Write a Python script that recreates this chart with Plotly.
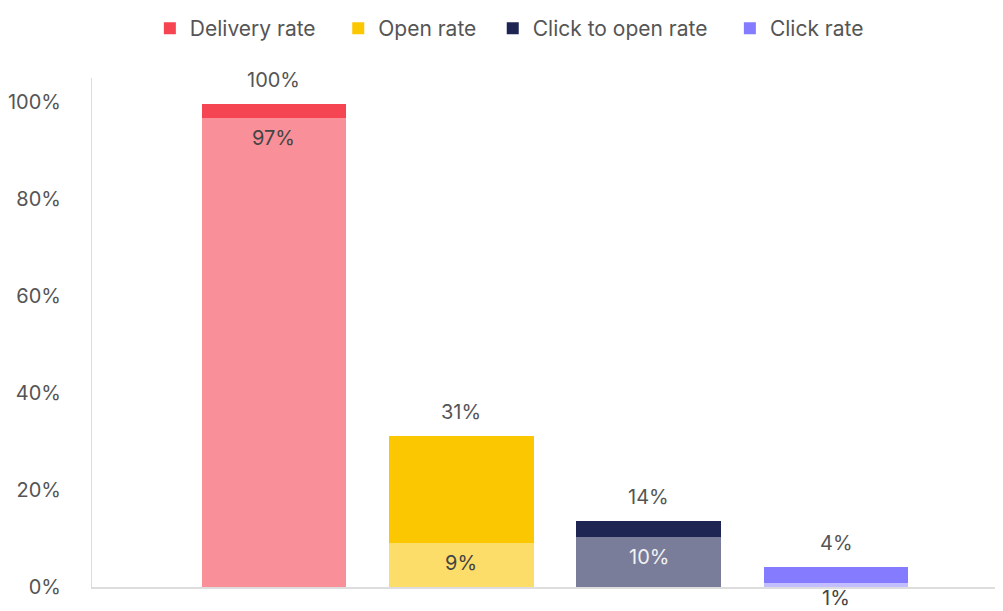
import plotly.graph_objects as go

categories = ["Delivery rate", "Open rate", "Click to open rate", "Click rate"]
totals = [99.6, 31.2, 13.6, 4.1]
lower = [96.8, 9.0, 10.4, 0.8]
dark_colors = ["#F54452", "#FBC700", "#1F2553", "#857BFF"]
light_colors = ["#F98F98", "#FDDD6A", "#797D99", "#C3BEFF"]
inner_text_colors = ["#444444", "#444444", "#F2F2F2", "#444444"]
legend_x = [0.0635, 0.2703, 0.4399, 0.7002]

FONT = "Inter, Lato, sans-serif"
TXT = "#555555"
FS = 20

fig = go.Figure()
for i, c in enumerate(categories):
    fig.add_trace(go.Bar(x=[c], y=[lower[i]], marker_color=light_colors[i],
                         marker_line_width=0, width=0.771, showlegend=False,
                         hoverinfo="skip"))
legend_names = ["legend", "legend2", "legend3", "legend4"]
for i, c in enumerate(categories):
    fig.add_trace(go.Bar(x=[c], y=[totals[i] - lower[i]], name=c,
                         marker_color=dark_colors[i], marker_line_width=0,
                         width=0.771, legend=legend_names[i]))

ann = []
for i, c in enumerate(categories):
    ann.append(dict(x=c, y=totals[i], text=f"{totals[i]:.0f}%", showarrow=False,
                    yanchor="bottom", yshift=10, font=dict(size=FS, color=TXT, family=FONT)))
    fits = lower[i] >= 3
    ann.append(dict(x=c, y=lower[i] if fits else 0, text=f"{lower[i]:.0f}%",
                    showarrow=False, yanchor="top", yshift=-7 if fits else 2,
                    borderpad=0,
                    font=dict(size=FS, color=inner_text_colors[i], family=FONT)))

legend_common = dict(orientation="h", xanchor="left", y=1.097, yanchor="middle",
                     font=dict(size=21, color=TXT, family=FONT), itemwidth=30,
                     bgcolor="rgba(0,0,0,0)")

fig.update_layout(
    width=995, height=603,
    margin=dict(l=81, r=0, t=65, b=24),
    barmode="stack",
    plot_bgcolor="white", paper_bgcolor="white",
    font=dict(family=FONT, size=FS, color=TXT),
    annotations=ann,
    legend=dict(x=legend_x[0], **legend_common),
    legend2=dict(x=legend_x[1], **legend_common),
    legend3=dict(x=legend_x[2], **legend_common),
    legend4=dict(x=legend_x[3], **legend_common),
    xaxis=dict(type="category", range=[-0.971, 3.891], showticklabels=False,
               showline=True, linecolor="#DDDDDD", linewidth=2, showgrid=False,
               zeroline=False, ticks=""),
    yaxis=dict(range=[0, 105], tickvals=[0, 20, 40, 60, 80, 100],
               ticktext=["0%", "20%", "40%", "60%", "80%", "100%"],
               showline=True, linecolor="#DDDDDD", linewidth=1, showgrid=False,
               zeroline=False, ticks="", ticklabelstandoff=26,
               tickfont=dict(size=FS, color=TXT, family=FONT)),
)

fig.write_html("out.html")
